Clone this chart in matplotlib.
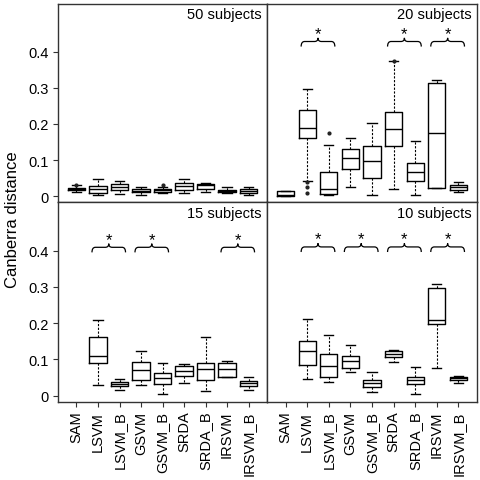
import matplotlib
matplotlib.use("Agg")
import matplotlib.pyplot as plt
from matplotlib.path import Path
from matplotlib.patches import PathPatch

plt.rcParams["font.family"] = ["Liberation Sans", "DejaVu Sans"]

# ── Data ─────────────────────────────────────────────────────────────────────
LABELS = ["SAM", "LSVM", "LSVM_B", "GSVM", "GSVM_B",
          "SRDA", "SRDA_B", "IRSVM", "IRSVM_B"]
YTICKS = [0, 0.1, 0.2, 0.3, 0.4]
YTICK_LABELS = ["0", "0.1", "0.2", "0.3", "0.4"]

# (whislo, q1, med, q3, whishi) per method; None = nothing drawn
S50 = [
    (0.012, 0.017, 0.021, 0.024, 0.031),
    (0.004, 0.010, 0.019, 0.028, 0.049),
    (0.006, 0.018, 0.027, 0.035, 0.042),
    (0.005, 0.011, 0.016, 0.019, 0.027),
    (0.010, 0.012, 0.017, 0.020, 0.026),
    (0.008, 0.017, 0.029, 0.038, 0.049),
    (0.013, 0.019, 0.030, 0.035, 0.038),
    (0.008, 0.011, 0.014, 0.017, 0.025),
    (0.005, 0.010, 0.015, 0.019, 0.027),
]
S50_FLIERS = {0: [0.030], 4: [0.031]}

S20 = [
    (0.001, 0.001, 0.004, 0.015, 0.015),
    (0.042, 0.160, 0.189, 0.240, 0.297),
    (0.003, 0.007, 0.021, 0.068, 0.143),
    (0.026, 0.076, 0.107, 0.132, 0.161),
    (0.004, 0.052, 0.098, 0.140, 0.202),
    (0.021, 0.138, 0.187, 0.233, 0.374),
    (0.004, 0.042, 0.067, 0.091, 0.152),
    (0.023, 0.024, 0.174, 0.313, 0.322),
    (0.012, 0.017, 0.026, 0.032, 0.040),
]
S20_FLIERS = {1: [0.039, 0.025, 0.009], 2: [0.174], 5: [0.375]}

S15 = [
    None,
    (0.030, 0.090, 0.109, 0.162, 0.208),
    (0.016, 0.026, 0.032, 0.037, 0.046),
    (0.030, 0.042, 0.072, 0.092, 0.124),
    (0.005, 0.032, 0.049, 0.063, 0.091),
    (0.034, 0.054, 0.068, 0.082, 0.087),
    (0.013, 0.043, 0.074, 0.091, 0.163),
    (0.051, 0.052, 0.073, 0.091, 0.096),
    (0.016, 0.028, 0.034, 0.040, 0.051),
]

S10 = [
    None,
    (0.046, 0.085, 0.124, 0.151, 0.211),
    (0.037, 0.051, 0.083, 0.114, 0.167),
    (0.064, 0.076, 0.095, 0.109, 0.141),
    (0.009, 0.023, 0.034, 0.043, 0.065),
    (0.092, 0.107, 0.114, 0.122, 0.127),
    (0.004, 0.032, 0.042, 0.051, 0.078),
    (0.076, 0.197, 0.208, 0.297, 0.307),
    (0.035, 0.044, 0.048, 0.052, 0.055),
]

# significant pairs: index of the first method of each starred pair
S50_SIG = []
S20_SIG = [1, 5, 7]
S15_SIG = [1, 3, 7]
S10_SIG = [1, 3, 5, 7]

# ── Layout (figure fractions) ────────────────────────────────────────────────
L, M, R = 0.1206, 0.5551, 0.9917
B, MID, T = 0.1628, 0.5773, 0.9906

PANELS = [
    ("50 subjects", S50, S50_FLIERS, S50_SIG, [L, MID, M - L, T - MID], False, True, 0.428),
    ("20 subjects", S20, S20_FLIERS, S20_SIG, [M, MID, R - M, T - MID], False, False, 0.428),
    ("15 subjects", S15, {}, S15_SIG, [L, B, M - L, MID - B], True, True, 0.409),
    ("10 subjects", S10, {}, S10_SIG, [M, B, R - M, MID - B], True, False, 0.410),
]

DASH = (0, (2.0, 1.4))


def brace(ax, pos, y):
    """Curly brace spanning two neighbouring boxes, with a star on top."""
    x0, x1 = pos - 0.28, pos + 1.28
    xm = (x0 + x1) / 2
    r, d, t = 0.16, 0.014, 0.010
    verts = [(x0, y - d), (x0, y), (x0 + r, y), (xm - r, y), (xm, y), (xm, y + t),
             (xm, y), (xm + r, y), (x1 - r, y), (x1, y), (x1, y - d)]
    codes = [Path.MOVETO, Path.CURVE3, Path.CURVE3, Path.LINETO, Path.CURVE3, Path.CURVE3,
             Path.CURVE3, Path.CURVE3, Path.LINETO, Path.CURVE3, Path.CURVE3]
    ax.add_patch(PathPatch(Path(verts, codes), fill=False, lw=0.9, color="black"))
    ax.text(xm, y + 0.022, "*", ha="center", va="center", fontsize=12)


fig = plt.figure(figsize=(4.81, 4.81), dpi=100)

for title, stats, fliers, sig, rect, show_x, show_y, bh in PANELS:
    ax = fig.add_axes(rect)
    bxp_stats, positions = [], []
    for i, s in enumerate(stats):
        if s is None:
            continue
        lo, q1, med, q3, hi = s
        bxp_stats.append(dict(whislo=lo, q1=q1, med=med, q3=q3, whishi=hi,
                              fliers=fliers.get(i, [])))
        positions.append(i + 1)
    ax.bxp(bxp_stats, positions=positions, widths=0.8, capwidths=0.42,
           boxprops=dict(color="black", lw=1.0),
           whiskerprops=dict(color="black", lw=0.8, linestyle=DASH),
           capprops=dict(color="black", lw=1.0),
           medianprops=dict(color="black", lw=1.0),
           flierprops=dict(marker="o", markersize=2.0, markerfacecolor="#222222",
                           markeredgecolor="#222222"),
           manage_ticks=False)
    for i in sig:
        brace(ax, i + 1, bh)

    ax.set_xlim(0.14, 9.86)
    ax.set_ylim(-0.0166, 0.533)
    ax.text(0.975, 0.946, title, transform=ax.transAxes, ha="right", va="center",
            fontsize=10.5)

    ax.set_xticks(range(1, len(LABELS) + 1))
    ax.set_yticks(YTICKS)
    if show_x:
        ax.set_xticklabels(LABELS, rotation=90, fontsize=10.5)
    else:
        ax.tick_params(axis="x", bottom=False, labelbottom=False)
    if show_y:
        ax.set_yticklabels(YTICK_LABELS, fontsize=10.5)
    else:
        ax.tick_params(axis="y", left=False, labelleft=False)
    ax.tick_params(direction="out", length=3.5, width=0.8, pad=3, color="#333333")
    for sp in ax.spines.values():
        sp.set_color("#333333")
        sp.set_linewidth(1.0)

fig.text(0.026, 1 - 220 / 481, "Canberra distance", rotation=90,
         ha="center", va="center", fontsize=12)

fig.savefig("out.png", dpi=100)
